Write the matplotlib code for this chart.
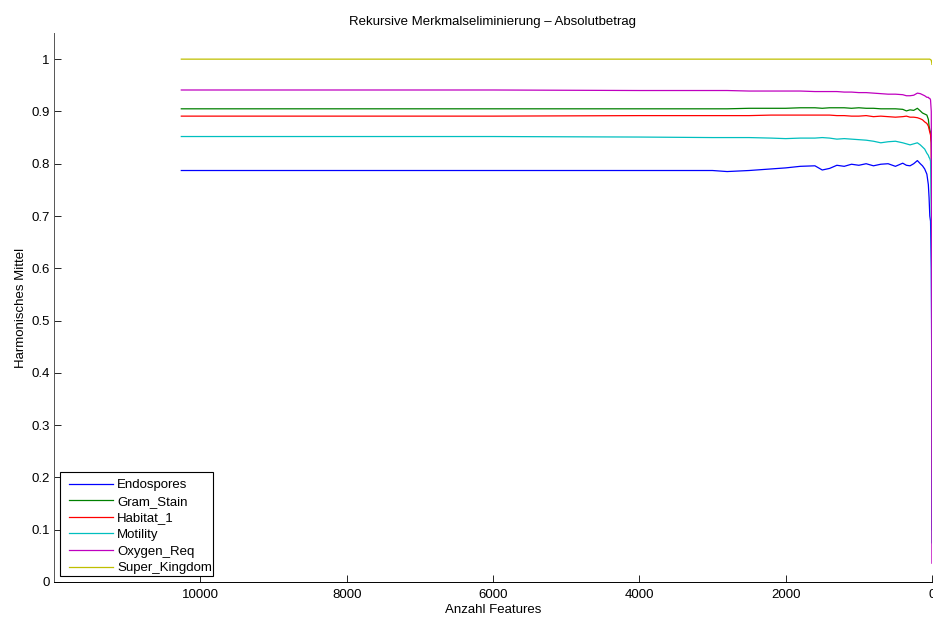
import numpy as np
import matplotlib
matplotlib.use('Agg')
import matplotlib.pyplot as plt
from matplotlib.patches import Rectangle
from matplotlib.lines import Line2D

plt.rcParams['font.family'] = ['Liberation Sans', 'DejaVu Sans']

# number of features (x)
feats = [10260, 8000, 6000, 4000, 3000, 2800, 2500, 2200, 2000, 1800,
         1600, 1500, 1400, 1300, 1200, 1100, 1000, 900, 800, 700,
         600, 500, 400, 350, 300, 250, 200, 160, 130, 100,
         70, 50, 40, 30, 20, 10, 5, 3, 2, 1]

endospores = [0.787, 0.787, 0.787, 0.787, 0.787, 0.785, 0.787, 0.790, 0.792, 0.795,
              0.796, 0.788, 0.791, 0.797, 0.795, 0.799, 0.797, 0.800, 0.796, 0.799,
              0.800, 0.795, 0.801, 0.797, 0.796, 0.800, 0.806, 0.800, 0.796, 0.790,
              0.780, 0.760, 0.735, 0.700, 0.690, 0.600, 0.450, 0.300, 0.180, 0.100]
gram_stain = [0.905, 0.905, 0.905, 0.905, 0.905, 0.905, 0.906, 0.906, 0.906, 0.907,
              0.907, 0.906, 0.907, 0.907, 0.907, 0.906, 0.907, 0.906, 0.906, 0.905,
              0.905, 0.905, 0.904, 0.901, 0.903, 0.902, 0.906, 0.901, 0.897, 0.895,
              0.893, 0.885, 0.872, 0.865, 0.860, 0.840, 0.780, 0.650, 0.520, 0.410]
habitat_1 = [0.891, 0.891, 0.891, 0.892, 0.892, 0.892, 0.892, 0.893, 0.893, 0.893,
             0.893, 0.893, 0.893, 0.892, 0.892, 0.891, 0.891, 0.892, 0.890, 0.891,
             0.890, 0.889, 0.890, 0.891, 0.889, 0.889, 0.888, 0.886, 0.884, 0.880,
             0.877, 0.872, 0.866, 0.860, 0.855, 0.840, 0.700, 0.500, 0.350, 0.210]
motility = [0.852, 0.852, 0.852, 0.851, 0.850, 0.850, 0.850, 0.849, 0.848, 0.849,
            0.849, 0.850, 0.849, 0.847, 0.848, 0.847, 0.846, 0.845, 0.843, 0.840,
            0.842, 0.843, 0.840, 0.838, 0.836, 0.838, 0.840, 0.836, 0.832, 0.828,
            0.820, 0.816, 0.812, 0.810, 0.805, 0.700, 0.500, 0.300, 0.150, 0.075]
oxygen_req = [0.941, 0.941, 0.941, 0.940, 0.940, 0.940, 0.939, 0.939, 0.939, 0.939,
              0.938, 0.938, 0.938, 0.938, 0.937, 0.937, 0.936, 0.936, 0.935, 0.934,
              0.933, 0.933, 0.932, 0.930, 0.930, 0.931, 0.935, 0.934, 0.932, 0.930,
              0.927, 0.927, 0.925, 0.925, 0.922, 0.900, 0.700, 0.400, 0.150, 0.036]
super_kingdom = [1.0] * 34 + [0.999, 0.998, 0.994, 0.993, 0.992, 0.990]

names = ['Endospores', 'Gram_Stain', 'Habitat_1', 'Motility', 'Oxygen_Req', 'Super_Kingdom']
series = [endospores, gram_stain, habitat_1, motility, oxygen_req, super_kingdom]
colors = ['#0000ff', '#008000', '#ff0000', '#00bfbf', '#bf00bf', '#bfbf00']

fs = 9.5
W, H = 933, 621
my_dpi = 100
fig = plt.figure(figsize=(W/my_dpi, H/my_dpi), dpi=my_dpi)
ax = fig.add_axes([54/W, 1-582/H, (932-54)/W, (582-33)/H])

for name, vals, c in zip(names, series, colors):
    ax.plot(feats, vals, color=c, linewidth=0.9, label=name)

ax.set_xlim(12000, 0)
ax.set_ylim(0, 1.05)
ax.set_xticks([10000, 8000, 6000, 4000, 2000, 0])
ax.set_yticks(np.arange(0, 1.01, 0.1))
ax.set_yticklabels(['0', '0.1', '0.2', '0.3', '0.4', '0.5', '0.6', '0.7', '0.8', '0.9', '1'])
ax.tick_params(direction='in', length=5, width=0.6, labelsize=fs)
ax.tick_params(axis='y', pad=3)
ax.tick_params(axis='x', pad=5)
for s in ['top', 'right']:
    ax.spines[s].set_visible(False)
for s in ['left', 'bottom']:
    ax.spines[s].set_linewidth(0.7)
ax.spines['left'].set_color('#555555')

ax.set_xlabel('Anzahl Features', fontsize=fs, labelpad=2)
ax.set_ylabel('Harmonisches Mittel', fontsize=fs, labelpad=3)
ax.set_title('Rekursive Merkmalseliminierung \u2013 Absolutbetrag', fontsize=fs, pad=6)

# legend box (MATLAB style, evenly spaced rows), placed in figure pixels
fig.add_artist(Rectangle((60/W, 1-576/H), (213-60)/W, (576-472)/H,
                         transform=fig.transFigure, facecolor='white',
                         edgecolor='black', linewidth=0.8, zorder=5))
for i, (line, name) in enumerate(zip(ax.get_lines(), names)):
    yc = 483.5 + 16.6*i
    fig.add_artist(Line2D([69/W, 113/W], [1 - yc/H, 1 - yc/H], transform=fig.transFigure,
                          color=line.get_color(), linewidth=0.9, zorder=6))
    fig.text(117/W, 1 - (yc + 4.7)/H, name, fontsize=fs, va='baseline', ha='left', zorder=6)

fig.savefig('out.png', dpi=my_dpi)
plt.close()
